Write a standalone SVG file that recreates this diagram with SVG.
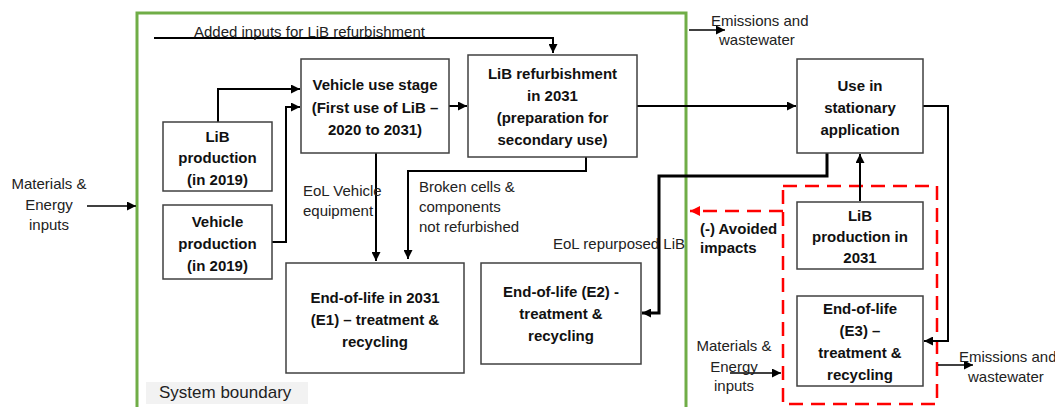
<svg xmlns="http://www.w3.org/2000/svg" width="1055" height="407" viewBox="0 0 1055 407">
<style>
.box{fill:#fff;stroke:#404040;stroke-width:1.5}
.b{font-family:"Liberation Sans",Arial,sans-serif;font-size:15px;font-weight:bold;fill:#111;text-anchor:middle}
.t{font-family:"Liberation Sans",Arial,sans-serif;font-size:15px;fill:#222}
.c{stroke:#000;stroke-width:2;fill:none}
.ck{stroke:#000;stroke-width:3;fill:none}
.thin{stroke:#000;stroke-width:1.5;fill:none}
</style>
<defs>
<marker id="ah" viewBox="0 0 10 10" refX="10" refY="5" markerWidth="9" markerHeight="9" markerUnits="userSpaceOnUse" orient="auto"><path d="M0,0 L10,5 L0,10 z" fill="#000"/></marker>
<marker id="ahr" viewBox="0 0 10 10" refX="10" refY="5" markerWidth="10" markerHeight="10" markerUnits="userSpaceOnUse" orient="auto"><path d="M0,0 L10,5 L0,10 z" fill="#f00"/></marker>
</defs>
<rect width="1055" height="407" fill="#fff"/>
<g id="boundary">
<rect x="137" y="13" width="549" height="410" fill="none" stroke="#70AD47" stroke-width="3"/>
<rect x="146" y="382" width="162" height="22" fill="#F2F2F2"/>
<text x="159" y="398" class="t" style="font-size:17px">System boundary</text>
</g>
<g id="avoided-boundary">
<rect x="783" y="186" width="154" height="218" fill="none" stroke="#f00" stroke-width="2.5" stroke-dasharray="14 8"/>
</g>
<g id="connectors">
<path class="c" d="M154,38 H553 V53" marker-end="url(#ah)"/>
<path class="c" d="M218,122 V89 H300" marker-end="url(#ah)"/>
<path class="c" d="M272,242 H286 V107 H300" marker-end="url(#ah)"/>
<path class="c" d="M449,106 H467" marker-end="url(#ah)"/>
<path class="c" d="M637,106 H796" marker-end="url(#ah)"/>
<path class="c" d="M376,153 V261" marker-end="url(#ah)"/>
<path class="c" d="M586,157 V171 H408 V259" marker-end="url(#ah)"/>
<path class="ck" d="M827,153 V176 H659 V313 H642" marker-end="url(#ah)"/>
<path class="c" d="M923,106 H948 V341 H924" marker-end="url(#ah)"/>
<path class="c" d="M860,201 V154" marker-end="url(#ah)"/>
<path class="thin" d="M87,206 H136" marker-end="url(#ah)"/>
<path class="thin" d="M689,30 H725" marker-end="url(#ah)"/>
<path class="thin" d="M730,373 H781" marker-end="url(#ah)"/>
<path class="thin" d="M938,365 H973" marker-end="url(#ah)"/>
<path d="M783,211 H690" fill="none" stroke="#f00" stroke-width="2.5" stroke-dasharray="14 8" marker-end="url(#ahr)"/>
</g>
<g id="labels">
<text x="194" y="36.5" class="t">Added inputs for LiB refurbishment</text>
<text class="t" text-anchor="middle"><tspan x="49" y="189">Materials &amp;</tspan><tspan x="49" y="210">Energy</tspan><tspan x="49" y="230">inputs</tspan></text>
<text class="t"><tspan x="303" y="196">EoL Vehicle</tspan><tspan x="303" y="216">equipment</tspan></text>
<text class="t"><tspan x="419" y="192">Broken cells &amp;</tspan><tspan x="419" y="212">components</tspan><tspan x="419" y="232">not refurbished</tspan></text>
<text x="553" y="249" class="t">EoL repurposed LiB</text>
<text class="t"><tspan x="711" y="26">Emissions and</tspan><tspan x="719" y="45">wastewater</tspan></text>
<text class="b" style="text-anchor:start"><tspan x="700" y="234">(-) Avoided</tspan><tspan x="700" y="253">impacts</tspan></text>
<text class="t" text-anchor="middle"><tspan x="734" y="351">Materials &amp;</tspan><tspan x="734" y="372">Energy</tspan><tspan x="734" y="391">inputs</tspan></text>
<text class="t"><tspan x="959" y="362">Emissions and</tspan><tspan x="968" y="382">wastewater</tspan></text>
</g>
<g id="lib-production-2019">
<rect class="box" x="163" y="122" width="109" height="69"/>
<text class="b"><tspan x="217.5" y="142">LiB</tspan><tspan x="217.5" y="163">production</tspan><tspan x="217.5" y="185">(in 2019)</tspan></text>
</g>
<g id="vehicle-production">
<rect class="box" x="163" y="205" width="109" height="74"/>
<text class="b"><tspan x="217.5" y="227">Vehicle</tspan><tspan x="217.5" y="249">production</tspan><tspan x="217.5" y="271">(in 2019)</tspan></text>
</g>
<g id="vehicle-use">
<rect class="box" x="301" y="59" width="148" height="94"/>
<text class="b"><tspan x="375" y="90">Vehicle use stage</tspan><tspan x="375" y="113">(First use of LiB –</tspan><tspan x="375" y="135">2020 to 2031)</tspan></text>
</g>
<g id="refurbishment">
<rect class="box" x="468" y="55" width="169" height="102"/>
<text class="b"><tspan x="552.5" y="79">LiB refurbishment</tspan><tspan x="552.5" y="101">in 2031</tspan><tspan x="552.5" y="123">(preparation for</tspan><tspan x="552.5" y="145">secondary use)</tspan></text>
</g>
<g id="stationary">
<rect class="box" x="797" y="59" width="126" height="94"/>
<text class="b"><tspan x="860" y="91">Use in</tspan><tspan x="860" y="113">stationary</tspan><tspan x="860" y="135">application</tspan></text>
</g>
<g id="eol-e1">
<rect class="box" x="286" y="263" width="178" height="110"/>
<text class="b"><tspan x="375" y="303">End-of-life in 2031</tspan><tspan x="375" y="325">(E1) – treatment &amp;</tspan><tspan x="375" y="347">recycling</tspan></text>
</g>
<g id="eol-e2">
<rect class="box" x="481" y="263" width="160" height="101"/>
<text class="b"><tspan x="561" y="297">End-of-life (E2) -</tspan><tspan x="561" y="319">treatment &amp;</tspan><tspan x="561" y="341">recycling</tspan></text>
</g>
<g id="lib-production-2031">
<rect class="box" x="797" y="202" width="126" height="67"/>
<text class="b"><tspan x="860" y="221">LiB</tspan><tspan x="860" y="242">production in</tspan><tspan x="860" y="263">2031</tspan></text>
</g>
<g id="eol-e3">
<rect class="box" x="797" y="296" width="126" height="90"/>
<text class="b"><tspan x="860" y="314">End-of-life</tspan><tspan x="860" y="336">(E3) –</tspan><tspan x="860" y="358">treatment &amp;</tspan><tspan x="860" y="380">recycling</tspan></text>
</g>
</svg>
